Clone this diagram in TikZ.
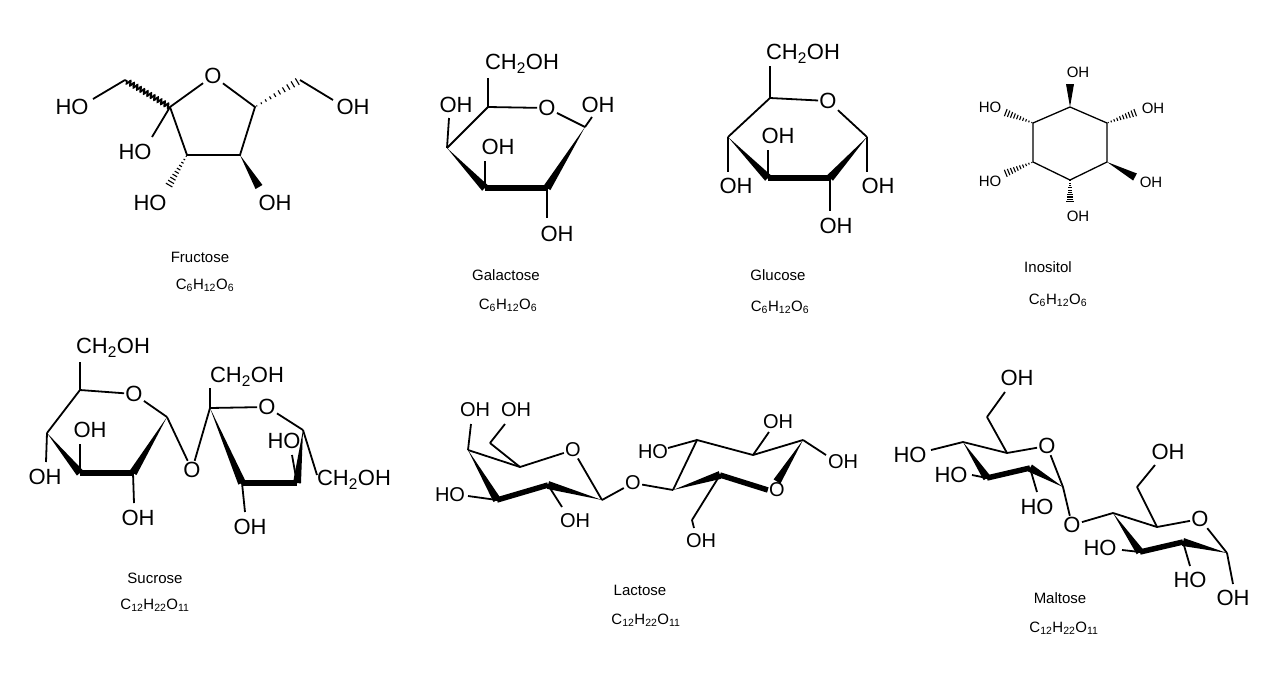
\documentclass[tikz,border=0pt]{standalone}
\usepackage{fontspec}
\setmainfont{Liberation Sans}
\usetikzlibrary{calc,decorations.pathmorphing}
\newcommand{\wdg}[2]{\fill (#1) -- ($(#2)!4pt!90:(#1)$) -- ($(#2)!4pt!-90:(#1)$) -- cycle;}
\newcommand{\hsh}[2]{\foreach \t in {0.04,0.14,...,1.0}{\pgfmathsetmacro\ww{0.4+\t*3.6}
  \coordinate (hp) at ($(#1)!\t!(#2)$);
  \draw[line width=1.1pt] ($(hp)!\ww pt!90:(#2)$) -- ($(hp)!\ww pt!-90:(#2)$);}}
\tikzset{
  atom/.style={inner sep=0.5pt, font=\fontsize{22}{22}\selectfont},
  atoms/.style={inner sep=0.5pt, font=\fontsize{20}{20}\selectfont},
  atomi/.style={inner sep=0.5pt, font=\fontsize{15}{15}\selectfont},
  capt/.style={font=\fontsize{15}{15}\selectfont},
  bnd/.style={line width=1.8pt},
  bold/.style={line width=5.5pt, line join=round},
}
\begin{document}
\begin{tikzpicture}[x=1pt,y=-1pt,bnd]
\useasboundingbox (0,0) rectangle (1280,678);
% ---------- Fructose
\coordinate (f2) at (170,107); \coordinate (f5) at (255,107);
\coordinate (f3) at (187,155); \coordinate (f4) at (240,155);
\node[atom] (fo) at (213,76) {O};
\draw (f2) -- (fo) -- (f5) -- (f4) -- (f3) -- (f2);
\coordinate (f1) at (125,80);
\draw[decorate,decoration={snake,amplitude=2.2pt,segment length=4pt}] (f2) -- (f1);
\node[atom] (fho1) at (72,107) {HO};
\draw (f1) -- (93,99);
\coordinate (f6) at (300,80);
\hsh{f5}{f6}
\node[atom] (foh6) at (353,107) {OH};
\draw (f6) -- (333,100);
\node[atom] (fho2) at (135,152) {HO};
\draw (f2) -- (152,137);
\node[atom] (fho3) at (150,203) {HO};
\coordinate (f3e) at (168,187); \hsh{f3}{f3e}
\node[atom] (foh4) at (275,203) {OH};
\coordinate (f4e) at (259,187); \wdg{f4}{f4e}
\node[capt] (fn) at (200,257) {Fructose};
\node[capt] (ff) at (205,285) {C\textsubscript{6}H\textsubscript{12}O\textsubscript{6}};
% ---------- Galactose
\coordinate (g5) at (488,107); \coordinate (g1) at (585,127);
\coordinate (g4) at (447,148); \coordinate (g3) at (485,188); \coordinate (g2) at (547,188);
\node[atom] (go) at (547,108) {O};
\draw (g4) -- (g5) -- (go) -- (g1);
\wdg{g4}{g3} \draw[bold] (g3) -- (g2); \wdg{g1}{g2}
\node[atom] (gch) at (522,64) {CH\textsubscript{2}OH};
\draw (g5) -- (488,78);
\node[atom] (goh1) at (598,105) {OH};
\draw (g1) -- (592,117);
\node[atom] (goh4) at (456,105) {OH};
\draw (g4) -- (449,118);
\node[atom] (goh3) at (498,147) {OH};
\draw (g3) -- (485,161);
\node[atom] (goh2) at (557,234) {OH};
\draw (g2) -- (547,218);
\node[capt] (gn) at (506,275) {Galactose};
\node[capt] (gf) at (508,305) {C\textsubscript{6}H\textsubscript{12}O\textsubscript{6}};
% ---------- Glucose
\coordinate (u5) at (770,98); \coordinate (u1) at (867,137);
\coordinate (u4) at (728,137); \coordinate (u3) at (768,178); \coordinate (u2) at (830,178);
\node[atom] (uo) at (828,101) {O};
\draw (u4) -- (u5) -- (uo) -- (u1);
\wdg{u4}{u3} \draw[bold] (u3) -- (u2); \wdg{u1}{u2}
\node[atom] (uch) at (803,54) {CH\textsubscript{2}OH};
\draw (u5) -- (770,66);
\node[atom] (uoh4) at (736,186) {OH};
\draw (u4) -- (728,172);
\node[atom] (uoh3) at (778,136) {OH};
\draw (u3) -- (768,150);
\node[atom] (uoh1) at (878,186) {OH};
\draw (u1) -- (867,172);
\node[atom] (uoh2) at (836,226) {OH};
\draw (u2) -- (830,211);
\node[capt] (un) at (778,275) {Glucose};
\node[capt] (uf) at (780,307) {C\textsubscript{6}H\textsubscript{12}O\textsubscript{6}};
% ---------- Inositol
\begin{scope}[line width=1.3pt]
\coordinate (i1) at (1070,107); \coordinate (i2) at (1107,123); \coordinate (i3) at (1107,162);
\coordinate (i4) at (1070,180); \coordinate (i5) at (1033,162); \coordinate (i6) at (1033,123);
\draw[line join=round] (i1) -- (i2) -- (i3) -- (i4) -- (i5) -- (i6) -- cycle;
\node[atomi] (ioh1) at (1078,72) {OH};
\coordinate (i1e) at (1070,84); \wdg{i1}{i1e}
\node[atomi] (iho6) at (990,107) {HO};
\coordinate (i6e) at (1004,112); \hsh{i6}{i6e}
\node[atomi] (ioh2) at (1153,108) {OH};
\coordinate (i2e) at (1137,112); \hsh{i2}{i2e}
\node[atomi] (iho5) at (990,181) {HO};
\coordinate (i5e) at (1004,174); \hsh{i5}{i5e}
\node[atomi] (ioh3) at (1151,182) {OH};
\coordinate (i3e) at (1135,177); \wdg{i3}{i3e}
\node[atomi] (ioh4) at (1078,216) {OH};
\coordinate (i4e) at (1070,203); \hsh{i4}{i4e}
\end{scope}
\node[capt] (in) at (1048,267) {Inositol};
\node[capt] (if) at (1058,300) {C\textsubscript{6}H\textsubscript{12}O\textsubscript{6}};
% ---------- Sucrose
\coordinate (s5) at (80,390); \coordinate (s1) at (167,417); \coordinate (s2) at (133,473);
\coordinate (s3) at (80,473); \coordinate (s4) at (47,433);
\node[atom] (so) at (134,394) {O};
\draw (s4) -- (s5) -- (so) -- (s1);
\wdg{s4}{s3} \draw[bold] (s3) -- (s2); \wdg{s1}{s2}
\node[atom] (sch) at (113,348) {CH\textsubscript{2}OH};
\draw (s5) -- (80,362);
\node[atom] (soh4) at (45,477) {OH};
\draw (s4) -- (46,462);
\node[atom] (soh3) at (90,430) {OH};
\draw (s3) -- (80,444);
\node[atom] (soh2) at (138,518) {OH};
\draw (s2) -- (134,503);
\node[atom] (sog) at (192,470) {O};
\coordinate (t2) at (210,408); \coordinate (t5) at (303,430);
\coordinate (t4) at (297,483); \coordinate (t3) at (242,483);
\draw (s1) -- (sog) -- (t2);
\node[atom] (to) at (267,407) {O};
\draw (t2) -- (to) -- (t5);
\wdg{t2}{t3} \draw[bold] (t3) -- (t4); \wdg{t5}{t4}
\node[atom] (tch) at (247,377) {CH\textsubscript{2}OH};
\draw (t2) -- (210,388);
\node[atom] (toh3) at (250,527) {OH};
\draw (t3) -- (245,512);
\node[atom] (tho4) at (284,441) {HO};
\draw (t4) -- (292,455);
\node[atom] (tch5) at (354,480) {CH\textsubscript{2}OH};
\draw (t5) -- (317,475);
\node[capt] (sn) at (155,578) {Sucrose};
\node[capt] (sf) at (155,605) {C\textsubscript{12}H\textsubscript{22}O\textsubscript{11}};
% ---------- Lactose
\coordinate (l4) at (468,450); \coordinate (l5) at (520,467); \coordinate (l1) at (602,500);
\coordinate (l2) at (548,485); \coordinate (l3) at (497,500); \coordinate (l6) at (490,443);
\node[atoms] (lo) at (573,450) {O};
\draw (l4) -- (l5) -- (lo) -- (l1);
\draw (l5) -- (l6);
\wdg{l4}{l3} \draw[bold] (l3) -- (l2); \wdg{l1}{l2}
\node[atoms] (loh4) at (475,410) {OH};
\draw (l4) -- (471,424);
\node[atoms] (loh6) at (516,410) {OH};
\draw (l6) -- (505,424);
\node[atoms] (lho3) at (450,495) {HO};
\draw (l3) -- (468,496);
\node[atoms] (loh2) at (575,521) {OH};
\draw (l2) -- (562,507);
\node[atoms] (log) at (633,483) {O};
\coordinate (m4) at (673,490); \coordinate (m3) at (697,440); \coordinate (m2) at (753,455);
\coordinate (m1) at (803,440); \coordinate (m5) at (720,475); \coordinate (m6) at (692,520);
\draw (l1) -- (log) -- (m4);
\node[atoms] (mo) at (777,490) {O};
\draw (m4) -- (m3) -- (m2) -- (m1);
\wdg{m1}{mo.north} \draw[bold] (mo.west) -- (m5); \wdg{m4}{m5}
\draw (m5) -- (m6);
\node[atoms] (mho3) at (653,452) {HO};
\draw (m3) -- (668,448);
\node[atoms] (moh2) at (778,422) {OH};
\draw (m2) -- (769,432);
\node[atoms] (moh1) at (843,462) {OH};
\draw (m1) -- (826,455);
\node[atoms] (moh6) at (701,541) {OH};
\draw (m6) -- (694,528);
\node[capt] (ln) at (640,590) {Lactose};
\node[capt] (lf) at (646,620) {C\textsubscript{12}H\textsubscript{22}O\textsubscript{11}};
% ---------- Maltose
\coordinate (a6) at (987,417); \coordinate (a5) at (1007,453); \coordinate (a1) at (1063,487);
\coordinate (a2) at (1030,468); \coordinate (a3) at (987,478); \coordinate (a4) at (963,442);
\node[atom] (ao) at (1047,446) {O};
\draw (a4) -- (a5) -- (ao) -- (a1);
\draw (a5) -- (a6);
\wdg{a4}{a3} \draw[bold] (a3) -- (a2); \wdg{a1}{a2}
\node[atom] (aoh6) at (1017,378) {OH};
\draw (a6) -- (1005,392);
\node[atom] (aho4) at (910,455) {HO};
\draw (a4) -- (931,450);
\node[atom] (aho3) at (951,475) {HO};
\draw (a3) -- (972,475);
\node[atom] (aho2) at (1037,507) {HO};
\draw (a2) -- (1037,492);
\node[atom] (aog) at (1072,525) {O};
\coordinate (b4) at (1113,513); \coordinate (b5) at (1157,527); \coordinate (b1) at (1227,553);
\coordinate (b2) at (1183,542); \coordinate (b3) at (1140,552); \coordinate (b6) at (1137,487);
\draw (a1) -- (aog) -- (b4);
\node[atom] (bo) at (1200,519) {O};
\draw (b4) -- (b5) -- (bo) -- (b1);
\draw (b5) -- (b6);
\wdg{b4}{b3} \draw[bold] (b3) -- (b2); \wdg{b1}{b2}
\node[atom] (boh6) at (1168,452) {OH};
\draw (b6) -- (1155,465);
\node[atom] (bho3) at (1100,548) {HO};
\draw (b3) -- (1122,550);
\node[atom] (bho2) at (1190,580) {HO};
\draw (b2) -- (1190,566);
\node[atom] (boh1) at (1233,598) {OH};
\draw (b1) -- (1233,584);
\node[capt] (an) at (1060,598) {Maltose};
\node[capt] (af) at (1064,628) {C\textsubscript{12}H\textsubscript{22}O\textsubscript{11}};
\end{tikzpicture}
\end{document}
